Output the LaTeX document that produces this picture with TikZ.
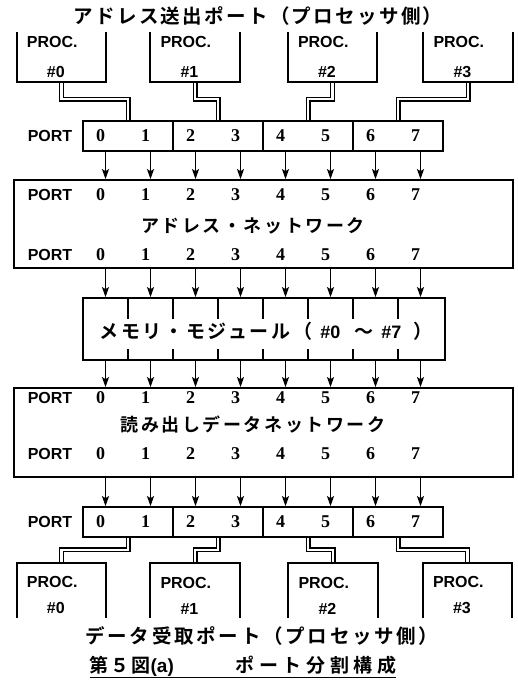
\documentclass[tikz,border=0pt]{standalone}
\usepackage{fontspec}
\setmainfont{Liberation Sans}
\newfontfamily\jp{Noto Sans CJK JP}[UprightFont={* Bold}, LetterSpace=14]
\newfontfamily\sfb{Liberation Sans}[UprightFont={* Bold}]
\newfontfamily\numf{Liberation Serif}[UprightFont={* Bold}]
\usetikzlibrary{arrows.meta,backgrounds}

\begin{document}
\begin{tikzpicture}[x=1pt, y=-1pt,
  % Node styles
  seg/.style={draw, line width=1.8pt, minimum width=90pt, minimum height=30pt, inner sep=0pt},
  net/.style={draw, line width=1.8pt, minimum width=499pt, inner sep=0pt},
  mod/.style={draw, line width=1.8pt, minimum width=362pt, minimum height=62pt, inner sep=0pt},
  proc/.style={minimum width=89pt, text width=69pt, inner xsep=10pt, inner ysep=0pt,
               align=left, font=\sfb\fontsize{16}{19}\selectfont},
  % Line styles
  side/.style={line width=1.8pt},
  tick/.style={line width=1.6pt},
  arr/.style={-{Stealth[length=10pt, width=7pt, inset=2pt]}, line width=1.4pt},
  bus/.style={double, line width=1.3pt, double distance=2.4pt, line join=miter},
  % Text styles
  lbl/.style={font=\sfb\fontsize{16}{16}\selectfont, inner sep=0pt},
  num/.style={font=\numf\fontsize{18}{18}\selectfont, inner sep=0pt, xshift=-5pt},
  jtxt/.style={font=\jp\fontsize{18}{18}\selectfont, inner sep=0pt},
]
\useasboundingbox (0,0) rectangle (518,683);

% columns (ports 0..7) and module borders
\foreach \i in {0,...,7} \coordinate (c\i) at ({105.5+45*\i},0);
\foreach \k in {1,...,7} \coordinate (b\k) at ({83+45*\k},0);

% === Address side: processors ===
\node[jtxt, font=\jp\fontsize{19.5}{19.5}\selectfont\addfontfeature{LetterSpace=12}] (ttlA) at (258,16)
  {アドレス送出ポート（プロセッサ側）};
\foreach \i/\x in {0/61.5,1/195,2/332.5,3/468}{
  \node[proc, minimum height=50pt] (pa\i) at (\x,57) {PROC.\\[11pt]\hspace*{20pt}\#\i};
  \draw[side] (pa\i.north west) -- (pa\i.south west) -- (pa\i.south east) -- (pa\i.north east);
}

% === Address port bar ===
\node[lbl] (apl) at (50,136) {PORT};
\foreach \j/\x in {0/128,1/218,2/308,3/398} \node[seg] (as\j) at (\x,136) {};
\foreach \i in {0,...,7} \node[num] (an\i) at (c\i |- as0) {\i};

\begin{scope}[on background layer]
  \foreach \j in {0,...,3} \draw[bus] (pa\j.south) -- ++(0,17) -| (as\j.north);
\end{scope}

% === Address network ===
\node[net, minimum height=88pt] (anet) at (263.5,224) {};
\coordinate (ar1) at (0,195);
\coordinate (ar2) at (0,255);
\node[lbl] (ap1) at (50,195) {PORT};
\node[lbl] (ap2) at (50,255) {PORT};
\node[jtxt] (antx) at (253,226) {アドレス・ネットワーク};
\foreach \i in {0,...,7}{
  \node[num] (ai\i) at (c\i |- ar1) {\i};
  \node[num] (ao\i) at (c\i |- ar2) {\i};
  \draw[arr] (c\i |- as0.south) -- (c\i |- anet.north);
}

% === Memory modules ===
\node[mod] (mem) at (264,329) {};
\node[jtxt, font=\jp\fontsize{19}{19}\selectfont] (memtx) at (266,331)
  {メモリ・モジュール（\hspace{8pt}{\sfb\fontsize{18}{18}\selectfont\#0}\hspace{14pt}〜\hspace{8pt}{\sfb\fontsize{18}{18}\selectfont\#7}\hspace{12pt}）};
\foreach \k in {1,...,7}{
  \draw[tick] (b\k |- mem.north) -- ++(0,22);
  \draw[tick] (b\k |- mem.south) -- ++(0,-12);
}

% === Read data network ===
\node[net, minimum height=89pt] (rnet) at (263.5,432.5) {};
\coordinate (rr1) at (0,398);
\coordinate (rr2) at (0,454);
\node[lbl] (rp1) at (50,398) {PORT};
\node[lbl] (rp2) at (50,454) {PORT};
\node[jtxt] (rntx) at (253,425) {読み出しデータネットワーク};
\foreach \i in {0,...,7}{
  \node[num] (ri\i) at (c\i |- rr1) {\i};
  \node[num] (ro\i) at (c\i |- rr2) {\i};
  \draw[arr] (c\i |- anet.south) -- (c\i |- mem.north);
  \draw[arr] (c\i |- mem.south) -- (c\i |- rnet.north);
}

% === Data port bar ===
\node[lbl] (dpl) at (50,522) {PORT};
\foreach \j/\x in {0/128,1/218,2/308,3/398} \node[seg] (ds\j) at (\x,522) {};
\foreach \i in {0,...,7}{
  \node[num] (dn\i) at (c\i |- ds0) {\i};
  \draw[arr] (c\i |- rnet.south) -- (c\i |- ds0.north);
}

% === Data side: processors ===
\foreach \i/\x in {0/61.5,1/195,2/333,3/467.5}{
  \node[proc, minimum height=55pt] (pd\i) at (\x,590.5) {\rule{0pt}{21pt}PROC.\\[7pt]\hspace*{20pt}\#\i};
  \draw[side] (pd\i.south west) -- (pd\i.north west) -- (pd\i.north east) -- (pd\i.south east);
}
\begin{scope}[on background layer]
  \foreach \j in {0,...,3} \draw[bus] (ds\j.south) -- ++(0,12) -| (pd\j.north);
\end{scope}

\node[jtxt, font=\jp\fontsize{19.5}{19.5}\selectfont] (ttlD) at (262,636)
  {データ受取ポート（プロセッサ側）};

% caption
\node[jtxt, font=\jp\fontsize{19}{19}\selectfont\addfontfeature{LetterSpace=10}] (cap) at (243,666)
  {第５図{\sfb(a)}\hspace{62pt}{\addfontfeature{LetterSpace=24}ポート分割構成}};
\draw[line width=1.6pt] ([yshift=-1pt]cap.south west) -- ([yshift=-1pt]cap.south east);

\end{tikzpicture}
\end{document}
